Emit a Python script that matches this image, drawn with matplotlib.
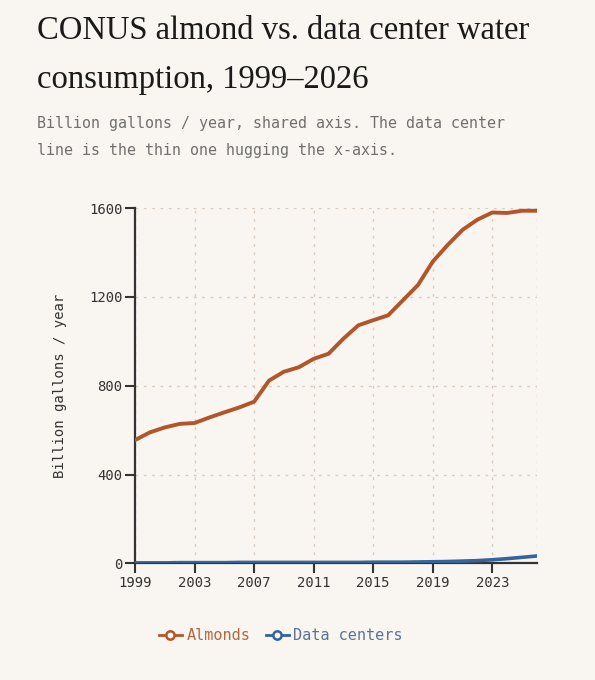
import matplotlib.pyplot as plt
from matplotlib.lines import Line2D

# data (billion gallons / year)
years = list(range(1999, 2027))
almonds = [555, 590, 612, 628, 632, 657, 680, 702, 728, 823, 863, 883, 921, 944,
           1012, 1072, 1095, 1117, 1185, 1253, 1359, 1434, 1502, 1548, 1580, 1578,
           1588, 1588]
data_centers = [2, 2, 2, 3, 3, 3, 3, 4, 4, 4, 4, 4, 4, 4,
                4, 4, 5, 5, 5, 6, 7, 8, 10, 12, 16, 21, 27, 33]
xticks = [1999, 2003, 2007, 2011, 2015, 2019, 2023]
yticks = [0, 400, 800, 1200, 1600]

BG = "#f9f5f0"
ALMOND = "#b1562a"
DC = "#33649c"
GRID = "#d8cdc0"
INK = "#333333"
MONO = "DejaVu Sans Mono"

fig = plt.figure(figsize=(5.95, 6.8), dpi=100, facecolor=BG)
ax = fig.add_axes([0.227, 0.1716, 0.6755, 0.5224])
ax.set_facecolor(BG)

ax.plot(years, almonds, color=ALMOND, lw=2.8, solid_joinstyle="round",
        solid_capstyle="round", zorder=3)
ax.plot(years, data_centers, color=DC, lw=2.6, solid_joinstyle="round",
        solid_capstyle="round", zorder=3)

ax.set_xlim(1999, 2026)
ax.set_ylim(0, 1600)
ax.set_xticks(xticks)
ax.set_yticks(yticks)

# grid
ax.grid(True, color=GRID, lw=1, linestyle=(0, (2, 4)))
ax.axvline(2026, color=GRID, lw=1, linestyle=(0, (2, 4)), zorder=1)

for s in ["top", "right"]:
    ax.spines[s].set_visible(False)
for s in ["left", "bottom"]:
    ax.spines[s].set_color(INK)
    ax.spines[s].set_linewidth(1.6)

ax.tick_params(axis="both", direction="out", length=7, width=1.5, color=INK,
               labelsize=10, labelcolor=INK, pad=2)
for lbl in ax.get_xticklabels() + ax.get_yticklabels():
    lbl.set_family(MONO)

ax.set_ylabel("Billion gallons / year", family=MONO, fontsize=10, color=INK,
              labelpad=16)

# title + subtitle
fig.text(0.062, 0.955, "CONUS almond vs. data center water", family="Liberation Serif",
         fontsize=23.5, color="#1a1a1a", va="center", ha="left")
fig.text(0.062, 0.883, "consumption, 1999\u20132026", family="Liberation Serif",
         fontsize=23.5, color="#1a1a1a", va="center", ha="left")
fig.text(0.062, 0.819, "Billion gallons / year, shared axis. The data center",
         family=MONO, fontsize=10.8, color="#707070", va="center", ha="left")
fig.text(0.062, 0.778, "line is the thin one hugging the x-axis.",
         family=MONO, fontsize=10.8, color="#707070", va="center", ha="left")

# legend
handles = [
    Line2D([], [], color=ALMOND, lw=2, marker="o", markersize=6,
           markerfacecolor=BG, markeredgewidth=1.8),
    Line2D([], [], color=DC, lw=2, marker="o", markersize=6,
           markerfacecolor=BG, markeredgewidth=1.8),
]
leg = fig.legend(handles, ["Almonds", "Data centers"], loc="center",
                 bbox_to_anchor=(0.472, 0.065), ncol=2, frameon=False,
                 handlelength=1.5, handletextpad=0.3, columnspacing=1.0,
                 prop={"family": MONO, "size": 11})
for txt, c in zip(leg.get_texts(), ["#b5683e", "#5a7396"]):
    txt.set_color(c)

fig.savefig("out.png", dpi=100, facecolor=BG)
